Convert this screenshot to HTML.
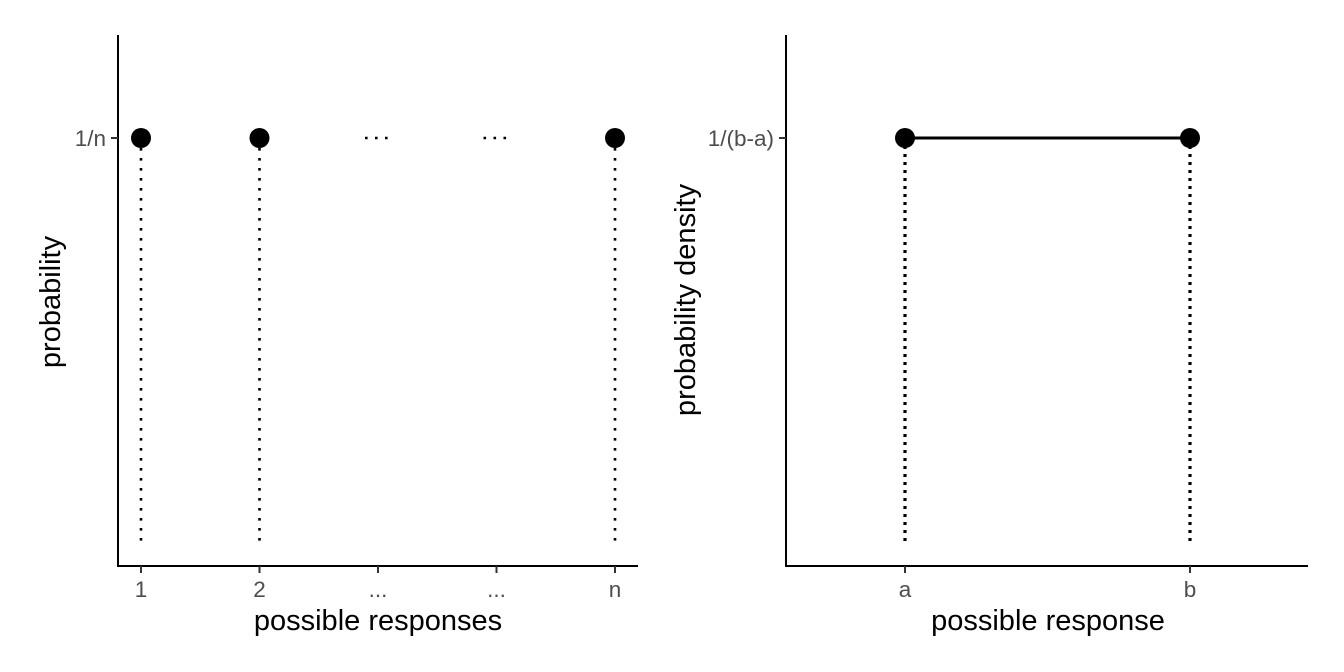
<!DOCTYPE html>
<html><head><meta charset="utf-8"><style>
html,body{margin:0;padding:0;background:#fff;}
svg{display:block;font-family:"Liberation Sans",sans-serif;}
</style></head><body>
<svg id="c" width="1344" height="672" viewBox="0 0 1344 672">
<g id="left"></g>
<g id="right"></g>
</svg>
<script>
const leftCats=["1","2","...","...","n"];
const leftPoint=[true,true,false,false,true];
const leftValue=1;
const rightCats=["a","b"];
const rightValue=1;
const NS="http://www.w3.org/2000/svg";
function mk(p,t,a){const e=document.createElementNS(NS,t);for(const k in a)e.setAttribute(k,a[k]);p.appendChild(e);return e;}
const TICK=22.5, TITLE=29;
// left panel
const L=document.getElementById('left');
const lx=i=>141+i*118.5;
const ly=v=>566-v*428;
mk(L,'line',{x1:118,y1:35,x2:118,y2:567,stroke:'#000','stroke-width':2});
mk(L,'line',{x1:117,y1:566,x2:638,y2:566,stroke:'#000','stroke-width':2});
let t=mk(L,'text',{x:106,y:ly(leftValue)+8,'text-anchor':'end','font-size':TICK,fill:'#4d4d4d'});t.textContent="1/n";

mk(L,'line',{x1:111,y1:ly(leftValue),x2:118,y2:ly(leftValue),stroke:'#333','stroke-width':2});
leftCats.forEach((c,i)=>{
 const x=lx(i);
 mk(L,'line',{x1:x,y1:566,x2:x,y2:573,stroke:'#333','stroke-width':2});
 const tx=mk(L,'text',{x:x,y:597,'text-anchor':'middle','font-size':TICK,fill:'#4d4d4d'});tx.textContent=c;
 
 
 if(leftPoint[i]){
  const ln=mk(L,'line',{x1:x,y1:ly(leftValue),x2:x,y2:542,stroke:'#000','stroke-width':2.6,'stroke-dasharray':'2.6 7.4'});
  
  
  const pt=mk(L,'circle',{cx:x,cy:ly(leftValue),r:10,fill:'#000'});
  
  
 } else {
  const el=mk(L,'line',{x1:x-13,y1:ly(leftValue),x2:x+13,y2:ly(leftValue),stroke:'#000','stroke-width':2.6,'stroke-dasharray':'2.6 7.4'});
  
  
 }
});
t=mk(L,'text',{x:378,y:630,'text-anchor':'middle','font-size':TITLE,fill:'#000'});t.textContent="possible responses";

t=mk(L,'text',{x:0,y:0,'text-anchor':'middle','font-size':TITLE,fill:'#000',transform:'translate(60,302) rotate(-90)'});t.textContent="probability";

// right panel
const R=document.getElementById('right');
const rx=i=>905+i*285;
const ry=v=>566-v*428;
mk(R,'line',{x1:786,y1:35,x2:786,y2:567,stroke:'#000','stroke-width':2});
mk(R,'line',{x1:785,y1:566,x2:1308,y2:566,stroke:'#000','stroke-width':2});
t=mk(R,'text',{x:774,y:ry(rightValue)+8,'text-anchor':'end','font-size':TICK,fill:'#4d4d4d'});t.textContent="1/(b-a)";

mk(R,'line',{x1:779,y1:ry(rightValue),x2:786,y2:ry(rightValue),stroke:'#333','stroke-width':2});
const seg=mk(R,'line',{x1:rx(0),y1:ry(rightValue),x2:rx(rightCats.length-1),y2:ry(rightValue),stroke:'#000','stroke-width':3});


rightCats.forEach((c,i)=>{
 const x=rx(i);
 mk(R,'line',{x1:x,y1:566,x2:x,y2:573,stroke:'#333','stroke-width':2});
 const tx=mk(R,'text',{x:x,y:597,'text-anchor':'middle','font-size':TICK,fill:'#4d4d4d'});tx.textContent=c;
 
 
 const ln=mk(R,'line',{x1:x,y1:ry(rightValue),x2:x,y2:542,stroke:'#000','stroke-width':3.2,'stroke-dasharray':'3 5'});
 
 
 const pt=mk(R,'circle',{cx:x,cy:ry(rightValue),r:10,fill:'#000'});
 
 
});
t=mk(R,'text',{x:1048,y:630,'text-anchor':'middle','font-size':TITLE,fill:'#000'});t.textContent="possible response";

t=mk(R,'text',{x:0,y:0,'text-anchor':'middle','font-size':TITLE,fill:'#000',transform:'translate(695,300) rotate(-90)'});t.textContent="probability density";

</script>
</body></html>
